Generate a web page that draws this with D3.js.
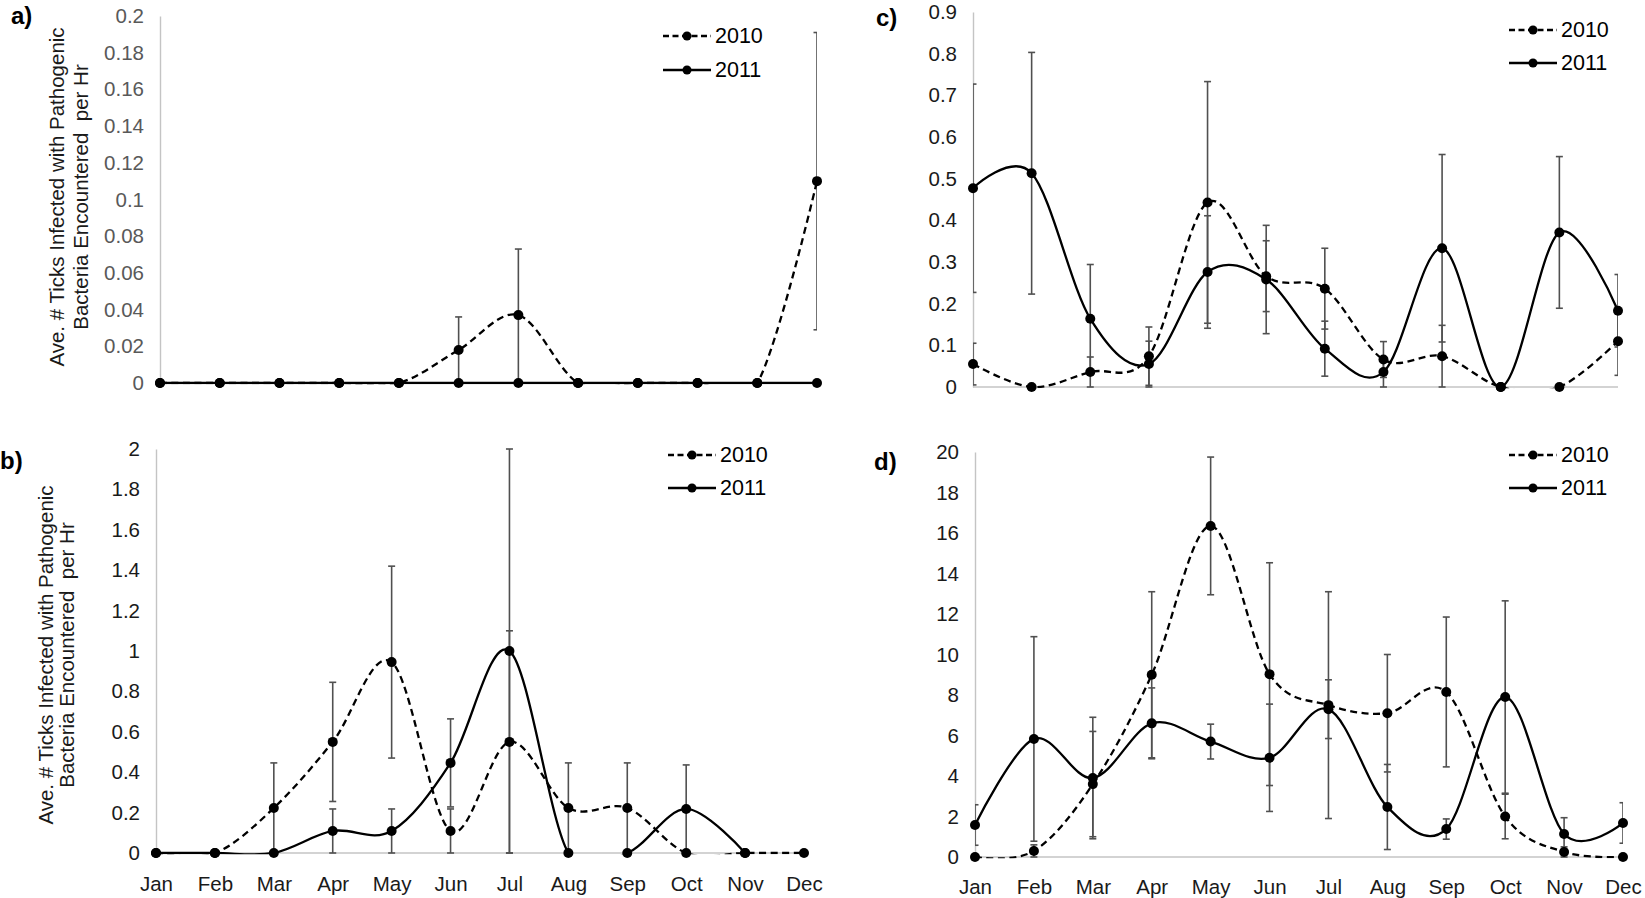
<!DOCTYPE html>
<html>
<head>
<meta charset="utf-8">
<script src="https://cdn.jsdelivr.net/npm/d3@7/dist/d3.min.js"></script>
<style>
  html, body { margin: 0; padding: 0; background: #fff; }
  svg { display: block; font-family: "Liberation Sans", Arial, Helvetica, sans-serif; }
  .ytitle { white-space: pre; }
</style>
</head>
<body>
<svg id="chart" width="1645" height="898"></svg>
<script>
const months = ["Jan","Feb","Mar","Apr","May","Jun","Jul","Aug","Sep","Oct","Nov","Dec"];
const seriesNames = ["2010", "2011"];
const yTitleLines = ["Ave. # Ticks Infected with Pathogenic", "Bacteria Encountered  per Hr"];

// Panel a
const a2010 = [0, 0, 0, 0, 0, 0.018, 0.037, 0, 0, 0, 0, 0.11];
const a2011 = [0, 0, 0, 0, 0, 0, 0, 0, 0, 0, 0, 0];
const a2010err = [0, 0, 0, 0, 0, 0.018, 0.036, 0, 0, 0, 0, 0.081];
const a2011err = [0, 0, 0, 0, 0, 0, 0, 0, 0, 0, 0, 0];
const aTicks = [0, 0.02, 0.04, 0.06, 0.08, 0.1, 0.12, 0.14, 0.16, 0.18, 0.2];

// Panel b
const b2010 = [0, 0, 0.223, 0.55, 0.945, 0.109, 0.55, 0.223, 0.223, 0, 0, 0];
const b2011 = [0, 0, 0, 0.109, 0.109, 0.446, 1.0, 0, 0, 0.218, 0, null];
const b2010err = [0, 0, 0.223, 0.295, 0.475, 0.109, 0.55, 0.223, 0.223, 0, 0, 0];
const b2011err = [0, 0, 0, 0.109, 0.109, 0.218, 1.0, 0, 0, 0.218, 0, 0];
const bTicks = [0, 0.2, 0.4, 0.6, 0.8, 1, 1.2, 1.4, 1.6, 1.8, 2];

// Panel c
const c2010 = [0.055, 0, 0.036, 0.074, 0.443, 0.266, 0.236, 0.066, 0.074, 0, 0, 0.110];
const c2011 = [0.477, 0.513, 0.164, 0.055, 0.276, 0.258, 0.092, 0.036, 0.333, 0, 0.371, 0.183];
const c2010err = [0.05, 0, 0.036, 0.07, 0.29, 0.085, 0.097, 0.043, 0.074, 0, 0, 0.082];
const c2011err = [0.25, 0.29, 0.13, 0.055, 0.135, 0.13, 0.066, 0.036, 0.225, 0, 0.182, 0.087];
const cTicks = [0, 0.1, 0.2, 0.3, 0.4, 0.5, 0.6, 0.7, 0.8, 0.9];

// Panel d
const d2010 = [0, 0.3, 3.6, 9.0, 16.35, 9.03, 7.5, 7.1, 8.15, 2.0, 0.25, 0];
const d2011 = [1.58, 5.83, 3.9, 6.6, 5.7, 4.9, 7.3, 2.47, 1.38, 7.9, 1.14, 1.68];
const d2010err = [0, 0.3, 2.6, 4.1, 3.4, 5.5, 5.6, 2.9, 3.7, 1.1, 0.25, 0];
const d2011err = [1.0, 5.05, 3.0, 1.75, 0.86, 2.65, 1.45, 2.1, 0.5, 4.75, 0.8, 1.0];
const dTicks = [0, 2, 4, 6, 8, 10, 12, 14, 16, 18, 20];

const panels = [
  { id: "a", label: "a)", lab: [11, 24], x0: 160, x1: 817, y0: 383, yTop: 16, ticks: aTicks,
    s: [a2010, a2011], e: [a2010err, a2011err], leg: [663, 36, 70], tickColor: "#595959",
    months: false, title: { x1: 56, x2: 80, cy: 197 } },
  { id: "b", label: "b)", lab: [0, 469], x0: 156, x1: 804, y0: 853, yTop: 449, ticks: bTicks,
    s: [b2010, b2011], e: [b2010err, b2011err], leg: [668, 455, 488], tickColor: "#1a1a1a",
    months: 883, title: { x1: 45, x2: 66, cy: 655 } },
  { id: "c", label: "c)", lab: [876, 26], x0: 973, x1: 1618, y0: 387, yTop: 12, ticks: cTicks,
    s: [c2010, c2011], e: [c2010err, c2011err], leg: [1509, 30, 63], tickColor: "#1a1a1a",
    months: false, title: null },
  { id: "d", label: "d)", lab: [874, 470], x0: 975, x1: 1623, y0: 857, yTop: 452, ticks: dTicks,
    s: [d2010, d2011], e: [d2010err, d2011err], leg: [1509, 455, 488], tickColor: "#1a1a1a",
    months: 886, title: null }
];

const svg = d3.select("#chart");
const defs = svg.append("defs");
const dash = "7,4.5";
const fmt = v => String(+v.toFixed(4));

panels.forEach(p => {
  const yMax = p.ticks[p.ticks.length - 1];
  const x = d3.scalePoint().domain(months).range([p.x0, p.x1]);
  const y = d3.scaleLinear().domain([0, yMax]).range([p.y0, p.yTop]);
  const g = svg.append("g");

  // clip paths
  defs.append("clipPath").attr("id", "clipL" + p.id).append("rect")
    .attr("x", p.x0 - 3).attr("y", p.yTop - 4)
    .attr("width", p.x1 - p.x0 + 6).attr("height", p.y0 - p.yTop + 5.2);
  defs.append("clipPath").attr("id", "clipE" + p.id).append("rect")
    .attr("x", p.x0).attr("y", p.yTop - 4)
    .attr("width", p.x1 - p.x0).attr("height", p.y0 - p.yTop + 5);

  // y axis (no ticks, labels only)
  const yAxis = d3.axisLeft(y).tickValues(p.ticks).tickSize(0).tickPadding(16).tickFormat(fmt);
  const ya = g.append("g").attr("transform", `translate(${p.x0},0)`).call(yAxis);
  ya.select(".domain").attr("stroke", "#c4c4c4").attr("stroke-width", 1.4);
  ya.selectAll("text").attr("font-size", 20.5).attr("fill", p.tickColor)
    .attr("font-family", "Liberation Sans, Arial, sans-serif");

  // x axis
  const xAxis = d3.axisBottom(x).tickSize(0).tickPadding(0);
  const xa = g.append("g").attr("transform", `translate(0,${p.y0})`).call(xAxis);
  xa.select(".domain").attr("stroke", "#c4c4c4").attr("stroke-width", 1.4)
    .attr("d", `M${p.x0},0H${p.x1}`);
  if (p.months) {
    xa.selectAll("text").attr("font-size", 20.5).attr("fill", "#1a1a1a")
      .attr("font-family", "Liberation Sans, Arial, sans-serif")
      .attr("dy", null).attr("y", p.months - p.y0).attr("dominant-baseline", "central");
  } else {
    xa.selectAll("text").remove();
  }

  // error bars
  const eg = g.append("g").attr("clip-path", `url(#clipE${p.id})`)
    .attr("stroke", "#505050").attr("stroke-width", 1.6).attr("fill", "none");
  p.s.forEach((vals, si) => {
    vals.forEach((v, i) => {
      const err = p.e[si][i];
      if (v == null || !err) return;
      const cx = x(months[i]);
      const yh = y(v + err);
      const ylo = y(v - err);
      eg.append("line").attr("x1", cx).attr("x2", cx).attr("y1", yh).attr("y2", ylo);
      eg.append("line").attr("x1", cx - 3.5).attr("x2", cx + 3.5).attr("y1", yh).attr("y2", yh);
      eg.append("line").attr("x1", cx - 3.5).attr("x2", cx + 3.5).attr("y1", ylo).attr("y2", ylo);
    });
  });

  // lines
  const line = d3.line()
    .defined(d => d.v != null)
    .x(d => x(d.m)).y(d => y(d.v))
    .curve(d3.curveCardinal.tension(0));
  const lg = g.append("g").attr("clip-path", `url(#clipL${p.id})`);
  p.s.forEach((vals, si) => {
    const data = vals.map((v, i) => ({ m: months[i], v }));
    lg.append("path").attr("d", line(data)).attr("fill", "none")
      .attr("stroke", "#000").attr("stroke-width", 2.3)
      .attr("stroke-dasharray", si === 0 ? dash : null);
  });

  // markers
  p.s.forEach(vals => {
    g.append("g").selectAll("circle")
      .data(vals.map((v, i) => ({ m: months[i], v })).filter(d => d.v != null))
      .join("circle").attr("cx", d => x(d.m)).attr("cy", d => y(d.v)).attr("r", 5).attr("fill", "#000");
  });

  // legend
  const [lx, ly1, ly2] = p.leg;
  [ly1, ly2].forEach((ly, si) => {
    g.append("line").attr("x1", lx).attr("x2", lx + 48).attr("y1", ly).attr("y2", ly)
      .attr("stroke", "#000").attr("stroke-width", 2.3)
      .attr("stroke-dasharray", si === 0 ? "6,3.5" : null);
    g.append("circle").attr("cx", lx + 24).attr("cy", ly).attr("r", 4.5).attr("fill", "#000");
    g.append("text").attr("x", lx + 52).attr("y", ly).attr("dominant-baseline", "central")
      .attr("font-size", 21.5).attr("fill", "#000").text(seriesNames[si]);
  });

  // panel label
  g.append("text").attr("x", p.lab[0]).attr("y", p.lab[1]).attr("font-size", 24)
    .attr("font-weight", "bold").attr("fill", "#000").text(p.label);

  // y title
  if (p.title) {
    [p.title.x1, p.title.x2].forEach((tx, li) => {
      g.append("text").attr("class", "ytitle")
        .attr("transform", `translate(${tx},${p.title.cy}) rotate(-90)`)
        .attr("text-anchor", "middle").attr("dominant-baseline", "central")
        .attr("font-size", 20.5).attr("fill", "#1a1a1a").text(yTitleLines[li]);
    });
  }
});
</script>
</body>
</html>
